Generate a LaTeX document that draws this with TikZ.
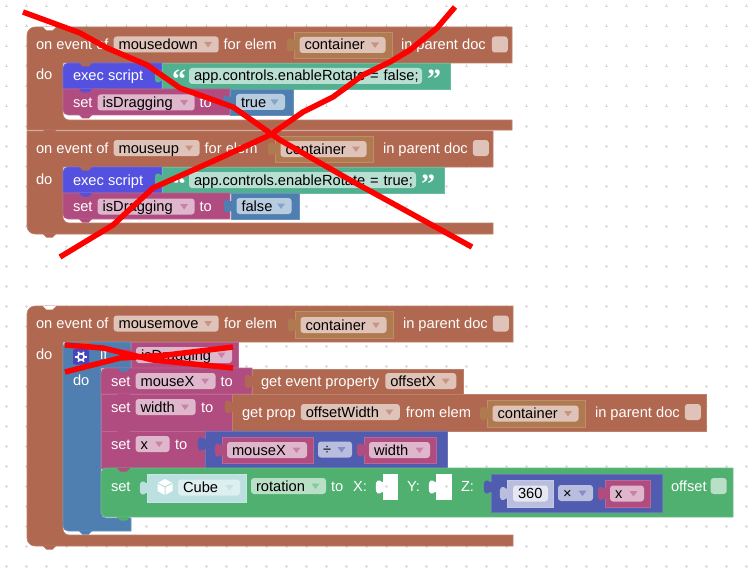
\documentclass[tikz,border=0pt]{standalone}
\usepackage{fontspec}
\setmainfont{Liberation Sans}
\newfontfamily\quotefont{Liberation Serif}
\usepackage{tikz}
\usetikzlibrary{positioning,calc}

\definecolor{bro}{RGB}{176,104,80}
\definecolor{pur}{RGB}{176,76,128}
\definecolor{blu}{RGB}{78,127,176}
\definecolor{ind}{RGB}{80,92,176}
\definecolor{gre}{RGB}{80,176,112}
\definecolor{tea}{RGB}{80,176,143}
\definecolor{vio}{RGB}{84,80,224}
\definecolor{cont}{RGB}{176,122,80}
\definecolor{cub}{RGB}{172,215,215}
\definecolor{cuba}{RGB}{188,224,224}

\begin{document}
\begin{tikzpicture}[x=1pt,y=-1pt,
  every node/.style={inner sep=0pt,outer sep=0pt,text height=12pt,text depth=2pt,
    font=\fontsize{14.67pt}{16pt}\selectfont},
  blk/.style={fill=#1,draw=#1!85!white,line width=.6pt},
  box/.style={blk=#1,anchor=north west},
  lbl/.style={text=white,anchor=west},
  quot/.style={lbl,font=\fontsize{28pt}{28pt}\selectfont\quotefont\bfseries},
  plainf/.style 2 args={fill=#1,rounded corners=3pt,minimum height=16pt,
    inner xsep=5pt,text width=#2pt-10pt,align=left,anchor=west},
  field/.style 2 args={plainf={#1!40!white}{#2},
    path picture={\fill[#1!70!white,sharp corners] ($(path picture bounding box.east)+(-14.5,-2.5)$)
      -- ++(8,0) -- ++(-4,5.5) -- cycle;}},
  chk/.style={fill=#1!40!white,rounded corners=3pt,minimum size=16pt,anchor=west},
  pics/tabp/.style={code={\fill[#1] (1,-5) -- (-1,-5) .. controls (-4,-8) and (-8,-7) .. (-7,0)
      .. controls (-8,7) and (-4,8) .. (-1,5) -- (1,5) -- cycle;}},
  pics/bump/.style={code={\fill[#1] (0,0) -- (3.5,3.5) -- (9.5,3.5) -- (13,0) -- cycle;}}
]
\useasboundingbox (0,0) rectangle (754,575);
% grid
\foreach \gx in {6,26,...,746}
  \foreach \gy in {6,26,...,566}
    \draw[gray!30,line width=.5pt] (\gx-1.5,\gy) -- (\gx+1.5,\gy) (\gx,\gy-1.5) -- (\gx,\gy+1.5);

% mousedown
\draw[blk=bro] (27,90) [rounded corners=8pt] -- (27,27) [sharp corners] -- (512,27) -- (512,63)
  -- (63,63) [rounded corners=6pt] -- (63,120) [sharp corners] -- (512,120) -- (512,130) -- (27,130) -- cycle;
\pic at (43,27) {bump=white};
\node[lbl] (evA) at (36,44.5) {on event of};
\node[field={bro}{105},right=5pt of evA] (typeA) {mousedown};
\node[lbl,right=5pt of typeA] (forA) {for elem};
\node[box=cont,minimum width=98pt,minimum height=26pt] (elemA) at (294,32) {};
\pic at (elemA.west) {tabp=cont};
\node[field={bro}{86},right=5.5pt of elemA.west] (nameA) {container};
\node[lbl] (docA) at (401,44.5) {in parent doc};
\node[chk=bro,right=6pt of docA] (chkA) {};
\node[lbl] (doA) at (36,75) {do};
\draw[blk=vio] (63,89) [rounded corners=5pt] -- (63,63) [sharp corners] -- (162,63) -- (162,89) -- cycle;
\pic at (79,63) {bump=bro};
\node[lbl] (execA) at (73,76) {exec script};
\node[box=tea,minimum width=288pt,minimum height=26pt] (strA) at (162,63) {};
\pic at (strA.west) {tabp=tea};
\node[plainf={tea!40!white}{233},right=27pt of strA.west] (codeA) {\mbox{app.controls.enableRotate = false;}};
\node[quot] (openA) at (172,84) {“};
\node[quot] (closeA) at (427,84) {”};
\draw[blk=pur] (63,105) -- (63,89) -- (230,89) -- (230,115) -- (70,115) [rounded corners=5pt] -- (63,115) -- cycle;
\pic at (79,89) {bump=vio};
\pic at (79,115) {bump=pur};
\node[lbl] (setA) at (73,102.5) {set};
\node[field={pur}{97},right=5pt of setA] (varA) {isDragging};
\node[lbl,right=5pt of varA] (toA) {to};
\node[box=blu,minimum width=63pt,minimum height=26pt] (trueb) at (230,89) {};
\pic at (trueb.west) {tabp=blu};
\node[field={blu}{49},right=6pt of trueb.west] (trueA) {true};

% mouseup
\draw[blk=bro] (27,190) -- (27,131) -- (493,131) -- (493,167)
  -- (63,167) [rounded corners=6pt] -- (63,223) [sharp corners] -- (493,223) -- (493,234)
  [rounded corners=8pt] -- (27,234) -- cycle;
\pic at (43,130) {bump=bro};
\pic at (43,234) {bump=bro};
\node[lbl] (evB) at (36,148) {on event of};
\node[field={bro}{86},right=5pt of evB] (typeB) {mouseup};
\node[lbl,right=5pt of typeB] (forB) {for elem};
\node[box=cont,minimum width=98pt,minimum height=26pt] (elemB) at (275,136) {};
\pic at (elemB.west) {tabp=cont};
\node[field={bro}{86},right=5.5pt of elemB.west] (nameB) {container};
\node[lbl] (docB) at (383,148) {in parent doc};
\node[chk=bro,right=5pt of docB] (chkB) {};
\node[lbl] (doB) at (36,179) {do};
\draw[blk=vio] (63,193) [rounded corners=5pt] -- (63,167) [sharp corners] -- (162,167) -- (162,193) -- cycle;
\pic at (79,167) {bump=bro};
\node[lbl] (execB) at (73,180) {exec script};
\node[box=tea,minimum width=282pt,minimum height=26pt] (strB) at (162,167) {};
\pic at (strB.west) {tabp=tea};
\node[plainf={tea!40!white}{227},right=27pt of strB.west] (codeB) {\mbox{app.controls.enableRotate = true;}};
\node[quot] (openB) at (172,188) {“};
\node[quot] (closeB) at (421,188) {”};
\draw[blk=pur] (63,209) -- (63,193) -- (230,193) -- (230,219) -- (70,219) [rounded corners=5pt] -- (63,219) -- cycle;
\pic at (79,193) {bump=vio};
\pic at (79,219) {bump=pur};
\node[lbl] (setB) at (73,206.5) {set};
\node[field={pur}{97},right=5pt of setB] (varB) {isDragging};
\node[lbl,right=5pt of varB] (toB) {to};
\node[box=blu,minimum width=68pt,minimum height=26pt] (falseb) at (231,193) {};
\pic at (falseb.west) {tabp=blu};
\node[field={blu}{55},right=5.5pt of falseb.west] (falseB) {false};

% mousemove
\draw[blk=bro] (27,400) [rounded corners=8pt] -- (27,306) [sharp corners] -- (513,306) -- (513,342)
  -- (63,342) [rounded corners=6pt] -- (63,535) [sharp corners] -- (513,535) -- (513,546)
  [rounded corners=8pt] -- (27,546) -- cycle;
\pic at (43,306) {bump=white};
\pic at (43,546) {bump=bro};
\node[lbl] (evC) at (36,323.5) {on event of};
\node[field={bro}{105},right=5pt of evC] (typeC) {mousemove};
\node[lbl,right=5.5pt of typeC] (forC) {for elem};
\node[box=cont,minimum width=98pt,minimum height=27pt] (elemC) at (295,311.5) {};
\pic at (elemC.west) {tabp=cont};
\node[field={bro}{86},right=5.5pt of elemC.west] (nameC) {container};
\node[lbl] (docC) at (403,323.5) {in parent doc};
\node[chk=bro,right=5pt of docC] (chkC) {};
\node[lbl] (doC) at (36,354) {do};

% if
\draw[blk=blu] (63,430) [rounded corners=5pt] -- (63,342) [sharp corners] -- (131,342) -- (131,368)
  -- (101,368) [rounded corners=5pt] -- (101,518) [sharp corners] -- (131,518) -- (131,531)
  [rounded corners=5pt] -- (63,531) -- cycle;
\pic at (79,342) {bump=bro};
\pic at (79,531) {bump=blu};
\fill[vio!85!black,rounded corners=2pt] (73,349) rectangle (89,364.5);
\foreach \ga in {0,60,...,300}
  \draw[white,line width=1.6pt] (81,356.8) ++(\ga:3.5) -- ++(\ga:2.2);
\draw[white,line width=1.6pt] (81,356.8) circle[radius=3.2pt];
\node[lbl] (ifC) at (100,354) {if};
\node[box=pur,minimum width=107pt,minimum height=26pt] (dragb) at (131,342) {};
\pic at (dragb.west) {tabp=pur};
\node[field={pur}{96},right=5pt of dragb.west] (varC) {isDragging};
\node[lbl] (doD) at (73,380) {do};

% set mouseX
\draw[blk=pur] (101,394) [rounded corners=5pt] -- (101,368) [sharp corners] -- (252,368) -- (252,394) -- cycle;
\pic at (117,368) {bump=blu};
\node[lbl] (setC) at (111,381) {set};
\node[field={pur}{80},right=5pt of setC] (varD) {mouseX};
\node[lbl,right=5pt of varD] (toC) {to};
\node[box=bro,minimum width=211pt,minimum height=25pt] (getev) at (252,369) {};
\pic at (getev.west) {tabp=bro};
\node[lbl] (getC) at (261,381) {get event property};
\node[field={bro}{71},right=6pt of getC] (propC) {offsetX};

% set width
\node[box=pur,minimum width=131pt,minimum height=37pt] (setwb) at (101,394) {};
\pic at (117,394) {bump=pur};
\node[lbl] (setD) at (111,407) {set};
\node[field={pur}{60},right=5pt of setD] (varE) {width};
\node[lbl,right=5.5pt of varE] (toD) {to};
\node[box=bro,minimum width=474pt,minimum height=37pt] (getprop) at (232,394) {};
\pic at ($(getprop.north west)+(0,13)$) {tabp=bro};
\node[lbl] (getD) at (242,412) {get prop};
\node[field={bro}{99},right=5pt of getD] (propD) {offsetWidth};
\node[lbl,right=6pt of propD] (fromD) {from elem};
\node[box=cont,minimum width=98pt,minimum height=27pt] (elemD) at (487,400) {};
\pic at (elemD.west) {tabp=cont};
\node[field={bro}{86},right=5.5pt of elemD.west] (nameD) {container};
\node[lbl] (docD) at (595,412) {in parent doc};
\node[chk=bro,right=5pt of docD] (chkD) {};

% set x
\node[box=pur,minimum width=104pt,minimum height=37pt] (setxb) at (101,431) {};
\pic at (117,431) {bump=pur};
\node[lbl] (setE) at (111,444) {set};
\node[field={pur}{34},right=5pt of setE] (varF) {x};
\node[lbl,right=5.5pt of varF] (toE) {to};
\node[box=ind,minimum width=242pt,minimum height=37pt] (divb) at (205,431) {};
\pic at ($(divb.north west)+(0,13)$) {tabp=ind};
\node[box=pur,minimum width=91pt,minimum height=26pt] (mxb) at (222,437) {};
\pic at (mxb.west) {tabp=pur};
\node[field={pur}{80},right=5pt of mxb.west] (mxf) {mouseX};
\node[field={ind}{34},anchor=west] (divf) at (318,449.5) {÷};
\node[box=pur,minimum width=72pt,minimum height=26pt] (wdb) at (364,437) {};
\pic at (wdb.west) {tabp=pur};
\node[field={pur}{61},right=5pt of wdb.west] (wdf) {width};

% set rotation
\draw[blk=gre] (101,468) -- (733,468) -- (733,517) -- (110,517) [rounded corners=5pt] -- (101,517) -- cycle;
\pic at (117,468) {bump=pur};
\pic at (117,517) {bump=gre};
\node[lbl] (setF) at (111,486) {set};
\node[box=cuba,minimum width=99pt,minimum height=28pt] (cubeb) at (147,474) {};
\pic at (cubeb.west) {tabp=cuba};
\fill[white] (165,479) -- (172.5,483) -- (172.5,491) -- (165,495) -- (157.5,491) -- (157.5,483) -- cycle;
\draw[cuba,line width=1pt] (157.5,483) -- (165,487) -- (172.5,483) (165,487) -- (165,495);
\node[field={cub}{62},anchor=west] (cubef) at (178,487.5) {Cube};
\node[field={gre}{75},anchor=west] (rotf) at (251,486) {rotation};
\node[lbl,right=5pt of rotf] (toF) {to};
\node[lbl] (xF) at (353,486) {X:};
\fill[white] (383,474) rectangle (398,500);
\pic at (383,487) {tabp=white};
\node[lbl] (yF) at (407,486) {Y:};
\fill[white] (436,474) rectangle (452,500);
\pic at (436,487) {tabp=white};
\node[lbl] (zF) at (461,486) {Z:};
\draw[gray!30,line width=.5pt] (384.5,486) -- (387.5,486) (386,484.5) -- (386,487.5) (444.5,486) -- (447.5,486) (446,484.5) -- (446,487.5);
\node[box=ind,minimum width=171pt,minimum height=38pt] (mulb) at (491,474) {};
\pic at ($(mulb.north west)+(0,13)$) {tabp=ind};
\node[box=ind!40!white,minimum width=46pt,minimum height=27pt] (numb) at (507,480) {};
\pic at (numb.west) {tabp={ind!40!white}};
\node[plainf={ind!15!white}{35},right=6pt of numb.west] (numf) {360};
\node[field={ind}{35},anchor=west] (mulf) at (558,493) {×};
\node[box=pur,minimum width=45pt,minimum height=27pt] (xb) at (605,480) {};
\pic at (xb.west) {tabp=pur};
\node[field={pur}{34},right=5pt of xb.west] (xf) {x};
\node[lbl] (offF) at (671,486) {offset};
\node[chk=gre,right=4pt of offF] (chkF) {};

% crossed out
\draw[red,line width=5.5pt,line join=round] (23,12) -- (53,23) -- (80,33) -- (107,48) -- (147,65)
  -- (180,88) -- (233,107) -- (280,140) -- (350,180) -- (472,247);
\draw[red,line width=5.5pt,line join=round] (455,7) -- (437,28) -- (410,50) -- (390,62) -- (363,75)
  -- (333,97) -- (303,112) -- (270,135) -- (220,158) -- (153,188) -- (113,225) -- (60,257);
\draw[red,line width=5.5pt,line join=round] (65,345) -- (103,348) -- (153,360) -- (233,368);
\draw[red,line width=5.5pt,line join=round] (65,372) -- (120,358) -- (167,355) -- (233,347);
\end{tikzpicture}
\end{document}
